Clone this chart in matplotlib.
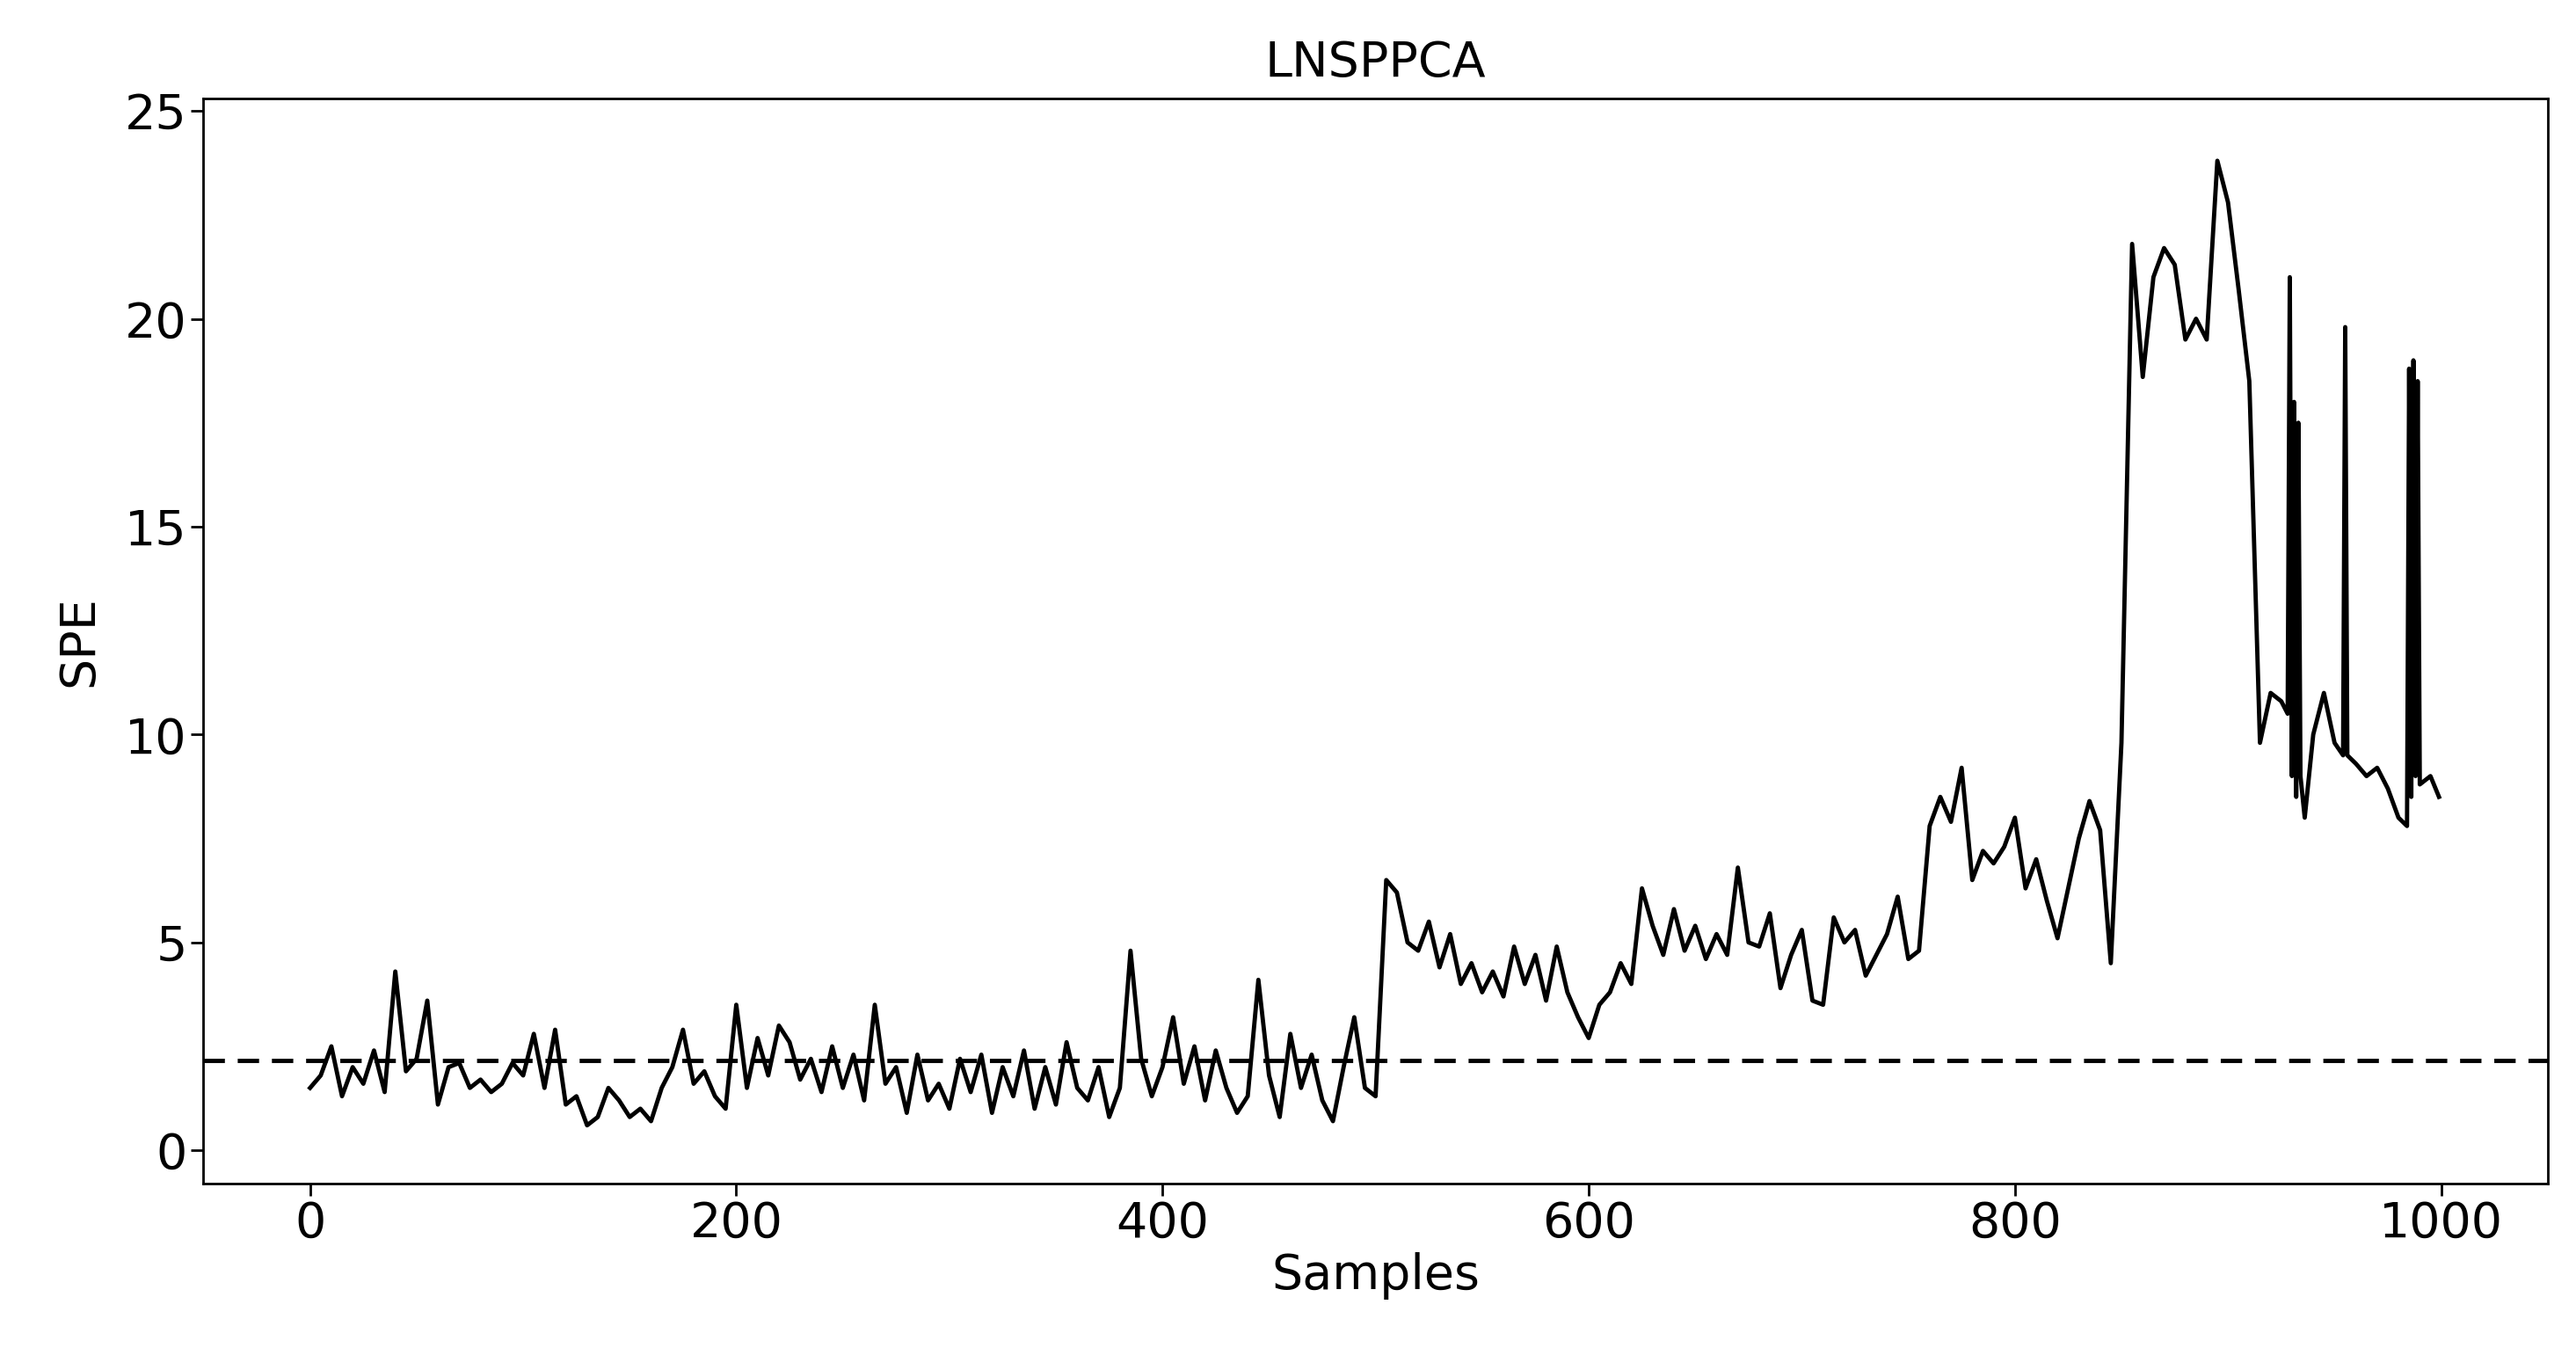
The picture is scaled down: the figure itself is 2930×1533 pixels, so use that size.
import numpy as np
import matplotlib
matplotlib.use("Agg")
import matplotlib.pyplot as plt

# SPE values read every 5 samples (0..925)
spe_regular = [
    1.5, 1.8, 2.5, 1.3, 2.0, 1.6, 2.4, 1.4, 4.3, 1.9, 2.2, 3.6, 1.1, 2.0, 2.1, 1.5, 1.7, 1.4, 1.6, 2.1,
    1.8, 2.8, 1.5, 2.9, 1.1, 1.3, 0.6, 0.8, 1.5, 1.2, 0.8, 1.0, 0.7, 1.5, 2.0, 2.9, 1.6, 1.9, 1.3, 1.0,
    3.5, 1.5, 2.7, 1.8, 3.0, 2.6, 1.7, 2.2, 1.4, 2.5, 1.5, 2.3, 1.2, 3.5, 1.6, 2.0, 0.9, 2.3, 1.2, 1.6,
    1.0, 2.2, 1.4, 2.3, 0.9, 2.0, 1.3, 2.4, 1.0, 2.0, 1.1, 2.6, 1.5, 1.2, 2.0, 0.8, 1.5, 4.8, 2.2, 1.3,
    2.0, 3.2, 1.6, 2.5, 1.2, 2.4, 1.5, 0.9, 1.3, 4.1, 1.8, 0.8, 2.8, 1.5, 2.3, 1.2, 0.7, 2.0, 3.2, 1.5,
    1.3, 6.5, 6.2, 5.0, 4.8, 5.5, 4.4, 5.2, 4.0, 4.5, 3.8, 4.3, 3.7, 4.9, 4.0, 4.7, 3.6, 4.9, 3.8, 3.2,
    2.7, 3.5, 3.8, 4.5, 4.0, 6.3, 5.4, 4.7, 5.8, 4.8, 5.4, 4.6, 5.2, 4.7, 6.8, 5.0, 4.9, 5.7, 3.9, 4.7,
    5.3, 3.6, 3.5, 5.6, 5.0, 5.3, 4.2, 4.7, 5.2, 6.1, 4.6, 4.8, 7.8, 8.5, 7.9, 9.2, 6.5, 7.2, 6.9, 7.3,
    8.0, 6.3, 7.0, 6.0, 5.1, 6.3, 7.5, 8.4, 7.7, 4.5, 9.8, 21.8, 18.6, 21.0, 21.7, 21.3, 19.5, 20.0, 19.5, 23.8,
    22.8, 20.7, 18.5, 9.8, 11.0, 10.8,
]
tail_samples = [928, 929, 930, 931, 932, 933, 934, 936, 940, 945, 950, 954, 955, 956, 960, 965, 970, 975,
                980, 984, 985, 986, 987, 988, 989, 990, 995, 999]
tail_spe = [10.5, 21.0, 9.0, 18.0, 8.5, 17.5, 9.0, 8.0, 10.0, 11.0, 9.8, 9.5, 19.8, 9.5, 9.3, 9.0, 9.2, 8.7,
            8.0, 7.8, 18.8, 8.5, 19.0, 9.0, 18.5, 8.8, 9.0, 8.5]
threshold = 2.15

samples = np.concatenate([np.arange(len(spe_regular)) * 5, tail_samples])
spe = np.concatenate([spe_regular, tail_spe])

fig = plt.figure(figsize=(29.3, 15.33), dpi=100)
ax = fig.add_axes([0.079, 0.122, 0.910, 0.805])
ax.plot(samples, spe, color="black", lw=3.5)
ax.axhline(threshold, color="black", ls=(0, (5, 3)), lw=3.5)
ax.set_xlim(-50, 1050)
ax.set_ylim(-0.8, 25.3)
ax.set_xticks([0, 200, 400, 600, 800, 1000])
ax.set_yticks([0, 5, 10, 15, 20, 25])
ax.tick_params(labelsize=40, width=2, length=10)
for s in ax.spines.values():
    s.set_linewidth(2)
ax.set_xlabel("Samples", fontsize=40, labelpad=4)
ax.set_ylabel("SPE", fontsize=40, labelpad=18)
ax.set_title("LNSPPCA", fontsize=40, pad=18)
fig.savefig("out.png", dpi=100)
